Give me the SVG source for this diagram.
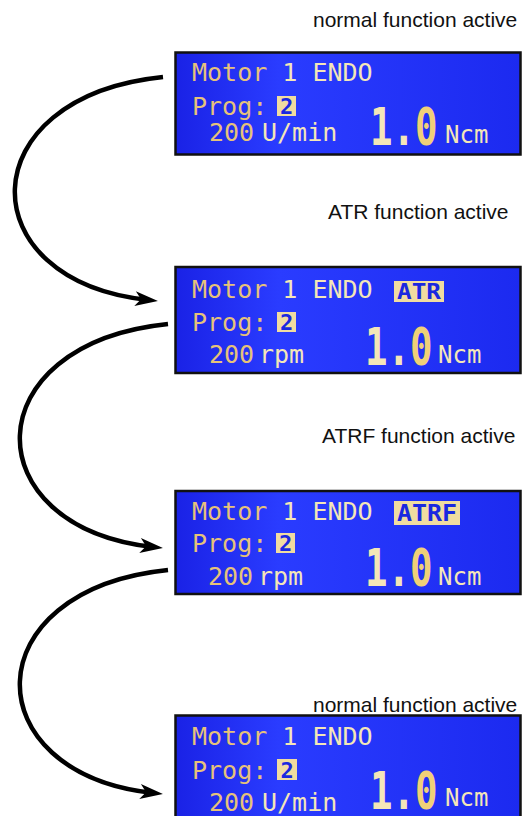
<svg xmlns="http://www.w3.org/2000/svg" width="526" height="816" viewBox="0 0 526 816">
<style>
.cap{font-family:"Liberation Sans",Arial,sans-serif;font-size:21px;fill:#111}
.panel{fill:url(#lcd);stroke:#111;stroke-width:2.5}
.lcd{font-family:"DejaVu Sans Mono","Liberation Mono",monospace;font-size:25px}
.big{font-family:"DejaVu Sans Mono","Liberation Mono",monospace;font-size:52px;font-weight:bold}
.ncm{font-family:"DejaVu Sans Mono","Liberation Mono",monospace;font-size:24px;fill:#f4e6b8}
.gold{fill:#e6c27a}
.pale{fill:#f4e6b8}
.inv{fill:#f0dca0}
.invt{font-family:"DejaVu Sans Mono","Liberation Mono",monospace;font-weight:bold;fill:#1a28e0;text-anchor:middle}
.zero{fill:#f0d078}
.conn{fill:none;stroke:#000;stroke-width:4.5;marker-end:url(#ah)}
</style>
<defs>
<linearGradient id="lcd" x1="0" y1="0" x2="1" y2="0">
<stop offset="0" stop-color="#1a22e6"/>
<stop offset="0.3" stop-color="#2a3cff"/>
<stop offset="1" stop-color="#1c2af0"/>
</linearGradient>
<marker id="ah" markerUnits="userSpaceOnUse" markerWidth="40" markerHeight="30" viewBox="-20 -15 40 30" refX="0" refY="0" orient="auto" overflow="visible">
<path d="M-13,-7.5 L10,0 L-13,7.5 L-7,0 Z" fill="#000"/>
</marker>
</defs>
<rect width="526" height="816" fill="#fff"/>

<g id="connectors">
<path class="conn" d="M163,77 C-32,97 -32,281 148,300"/>
<path class="conn" d="M168,324 C-27,344 -27,527 153,547"/>
<path class="conn" d="M168,570 C-27,590 -27,773 153,793"/>
</g>

<g id="label-normal-1"><text class="cap" x="313" y="27">normal function active</text></g>
<g id="label-atr"><text class="cap" x="328" y="219">ATR function active</text></g>
<g id="label-atrf"><text class="cap" x="322" y="443">ATRF function active</text></g>
<g id="label-normal-2"><text class="cap" x="313" y="712">normal function active</text></g>

<g id="panel-normal-1">
<rect class="panel" x="175.5" y="52.5" width="345" height="102"/>
<text class="lcd" x="192" y="81"><tspan class="gold">Motor</tspan><tspan class="pale"> 1 ENDO</tspan></text>
<text class="lcd gold" x="192" y="115">Prog:</text>
<rect class="inv" x="277" y="96" width="19" height="20"/>
<text class="invt" x="286.5" y="114" font-size="22">2</text>
<text class="lcd gold" x="209" y="141">200</text>
<text class="lcd pale" x="262" y="141">U/min</text>
<text class="big" transform="translate(370,145) scale(0.72,1)"><tspan class="pale">1.</tspan><tspan class="zero">0</tspan></text>
<text class="ncm" x="445" y="143">Ncm</text>
</g>

<g id="panel-atr">
<rect class="panel" x="175.5" y="267" width="345" height="106"/>
<text class="lcd" x="192" y="298"><tspan class="gold">Motor</tspan><tspan class="pale"> 1 ENDO</tspan></text>
<rect class="inv" x="394" y="281" width="50" height="21"/>
<text class="invt" x="419" y="299" font-size="22" textLength="44" lengthAdjust="spacingAndGlyphs">ATR</text>
<text class="lcd gold" x="192" y="331">Prog:</text>
<rect class="inv" x="277" y="312" width="19" height="20"/>
<text class="invt" x="286.5" y="330" font-size="22">2</text>
<text class="lcd gold" x="209" y="363">200</text>
<text class="lcd pale" x="259" y="363">rpm</text>
<text class="big" transform="translate(365,365) scale(0.72,1)"><tspan class="pale">1.</tspan><tspan class="zero">0</tspan></text>
<text class="ncm" x="438" y="363">Ncm</text>
</g>

<g id="panel-atrf">
<rect class="panel" x="175.5" y="491" width="345" height="103"/>
<text class="lcd" x="192" y="520"><tspan class="gold">Motor</tspan><tspan class="pale"> 1 ENDO</tspan></text>
<rect class="inv" x="394" y="501" width="66" height="24"/>
<text class="invt" x="427" y="521" font-size="23" textLength="60" lengthAdjust="spacingAndGlyphs">ATRF</text>
<text class="lcd gold" x="192" y="552">Prog:</text>
<rect class="inv" x="276" y="533" width="19" height="20"/>
<text class="invt" x="285.5" y="551" font-size="22">2</text>
<text class="lcd gold" x="208" y="585">200</text>
<text class="lcd pale" x="258" y="585">rpm</text>
<text class="big" transform="translate(365,586) scale(0.72,1)"><tspan class="pale">1.</tspan><tspan class="zero">0</tspan></text>
<text class="ncm" x="438" y="585">Ncm</text>
</g>

<g id="panel-normal-2">
<rect class="panel" x="175.5" y="715.5" width="345" height="110"/>
<text class="lcd" x="192" y="745"><tspan class="gold">Motor</tspan><tspan class="pale"> 1 ENDO</tspan></text>
<text class="lcd gold" x="192" y="779">Prog:</text>
<rect class="inv" x="277" y="759" width="20" height="21"/>
<text class="invt" x="287" y="778" font-size="22">2</text>
<text class="lcd gold" x="209" y="811">200</text>
<text class="lcd pale" x="262" y="811">U/min</text>
<text class="big" transform="translate(370,809) scale(0.72,1)"><tspan class="pale">1.</tspan><tspan class="zero">0</tspan></text>
<text class="ncm" x="445" y="806">Ncm</text>
</g>
</svg>
